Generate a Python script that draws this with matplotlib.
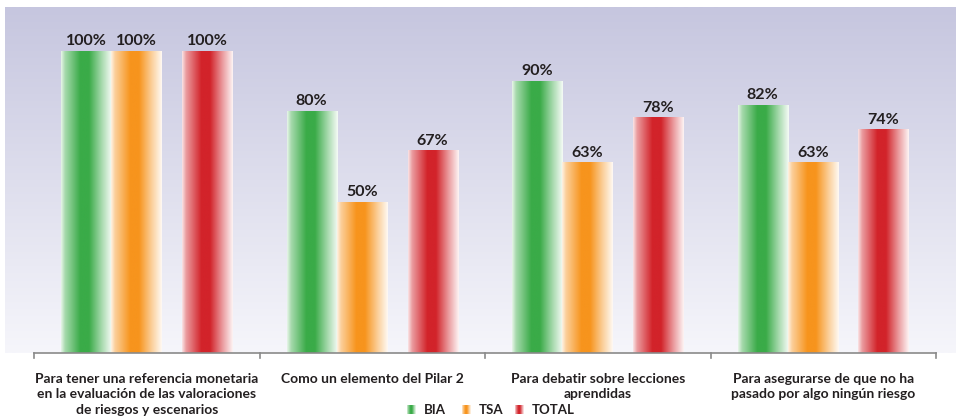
import numpy as np
import matplotlib
matplotlib.use("Agg")
import matplotlib.pyplot as plt
from matplotlib.colors import to_rgb

plt.rcParams['font.family'] = ['Lato', 'DejaVu Sans']

# Data
categories = [
    "Para tener una referencia monetaria\nen la evaluación de las valoraciones\nde riesgos y escenarios",
    "Como un elemento del Pilar 2",
    "Para debatir sobre lecciones\naprendidas",
    "Para asegurarse de que no ha\npasado por algo ningún riesgo",
]
series_names = ["BIA", "TSA", "TOTAL"]
bia = [100, 80, 90, 82]
tsa = [100, 50, 63, 63]
total = [100, 67, 78, 74]
series_values = [bia, tsa, total]
colors = ["#3aab48", "#f7941d", "#d2232a"]

# Layout of bars within a group (in group-width units)
bar_w = 0.222
offsets = [-0.27, -0.048, 0.266]

fig = plt.figure(figsize=(9.6, 4.2), dpi=100)
ax = fig.add_axes([5 / 960, 1 - 353 / 420, 950 / 960, 346 / 420])
ax.set_xlim(-0.63, 3.583)
ax.set_ylim(0, 114.6)
ax.set_axis_off()

# Lavender-to-white vertical background
top_c = np.array(to_rgb("#c6c6df"))
bot_c = np.array(to_rgb("#f6f6fb"))
t = np.linspace(0, 1, 256)[:, None]
bg = (top_c[None, :] * (1 - t) + bot_c[None, :] * t)[:, None, :]
ax.imshow(bg, extent=[0, 1, 0, 1], transform=ax.transAxes, aspect="auto",
          zorder=0, interpolation="bilinear")


def shaded(col, n=200):
    """Horizontal white-colour-white shading used for bars and legend keys."""
    xs = np.linspace(0, 1, n)
    a = np.interp(xs, [0.0, 0.08, 0.38, 0.55, 0.8, 1.0],
                  [0.12, 0.45, 1.0, 1.0, 0.45, 0.05])
    c = np.array(to_rgb(col))
    return ((1 - a[:, None]) + a[:, None] * c[None, :])[None, :, :]


x = np.arange(len(categories))
for vals, off, col in zip(series_values, offsets, colors):
    bars = ax.bar(x + off, vals, width=bar_w, color="none", edgecolor="none", zorder=2)
    img = shaded(col)
    for b, v in zip(bars, vals):
        x0 = b.get_x()
        ax.imshow(img, extent=[x0, x0 + b.get_width(), 0, v], aspect="auto",
                  zorder=2, interpolation="bilinear")
        ax.annotate(f"{v}%", (x0 + b.get_width() / 2, v), xytext=(0, 6),
                    textcoords="offset pixels", ha="center", va="baseline",
                    fontsize=11.5, fontweight="bold", color="#231f20", zorder=3)

# Category axis line with separator ticks
ax.plot([-0.5, 3.5], [0, 0], color="#8a8a8a", lw=1.2, zorder=3, clip_on=False)
for tx in np.arange(-0.5, 4.0, 1.0):
    ax.plot([tx, tx], [0, -1.8], color="#8a8a8a", lw=1.2, zorder=3, clip_on=False)

for xi, lab in zip(x, categories):
    ax.text(xi, -6.5, lab, ha="center", va="top", fontsize=10, fontweight="bold",
            color="#231f20", linespacing=1.35, clip_on=False)

# Legend row with shaded keys
leg = fig.add_axes([0, 0, 1, 1], zorder=5)
leg.set_xlim(0, 960)
leg.set_ylim(420, 0)
leg.set_axis_off()
leg.patch.set_alpha(0)
key_x = [407, 462, 515]
for kx, name, col in zip(key_x, series_names, colors):
    leg.imshow(shaded(col), extent=[kx, kx + 9, 414, 405], aspect="auto",
               interpolation="bilinear")
    leg.text(kx + 17, 409.5, name, ha="left", va="center", fontsize=9.5,
             fontweight="bold", color="#231f20")

fig.savefig("out.png", dpi=100)
